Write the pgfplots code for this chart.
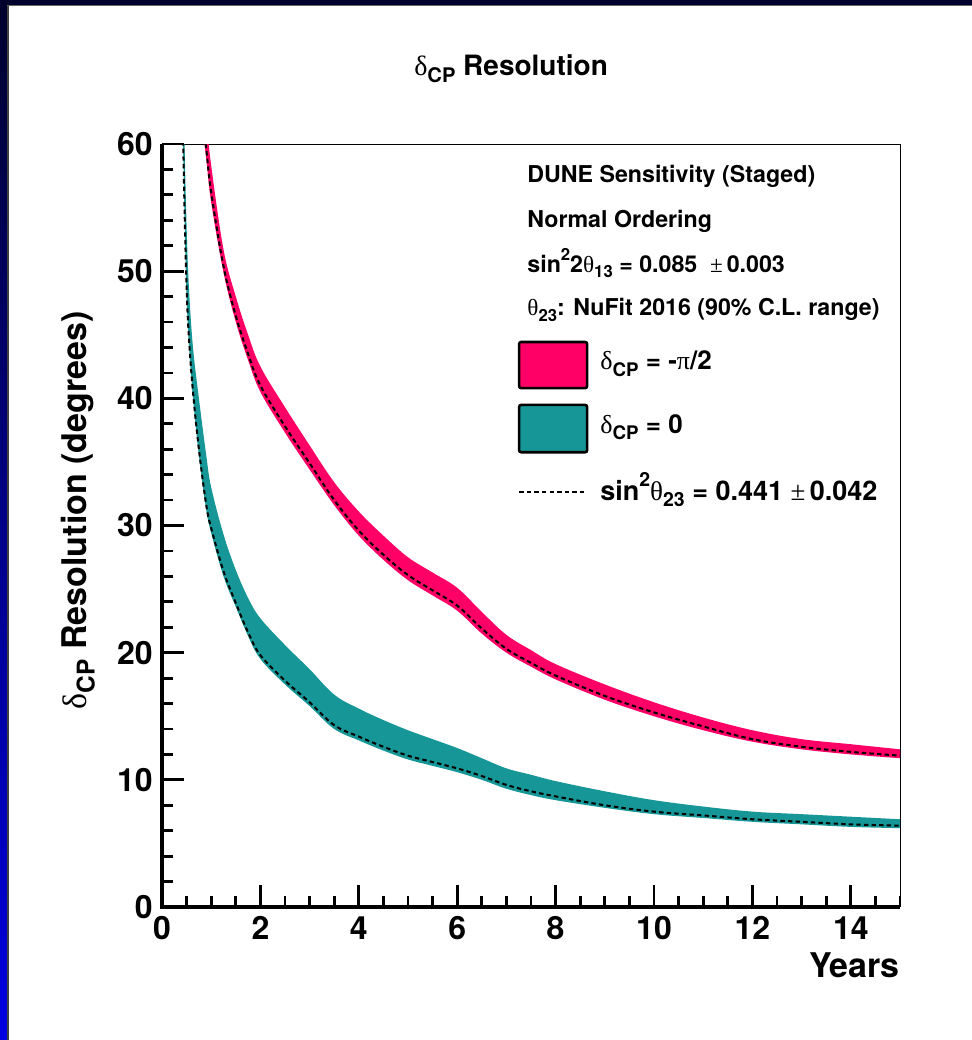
\documentclass[border=0pt]{standalone}
\usepackage{fontspec}
\setmainfont{TeX Gyre Heros}
\newfontfamily\grk{Liberation Serif}
\usepackage{graphicx}
\usepackage{pgfplots}
\pgfplotsset{compat=1.18}
\usepgfplotslibrary{fillbetween}
\usepackage{pgfplotstable}

\definecolor{dunepink}{RGB}{255,0,102}
\definecolor{duneteal}{RGB}{22,150,150}
\definecolor{framenavy}{RGB}{0,0,45}
\definecolor{frameblue}{RGB}{0,0,225}

% sub- and superscripts in the ROOT style
\newcommand{\lo}[1]{\raisebox{-0.45ex}{\scalebox{0.72}{#1}}}
\newcommand{\hi}[1]{\raisebox{0.95ex}{\scalebox{0.72}{#1}}}
\newcommand{\gr}[1]{{\grk\mdseries #1}}

% delta_CP = -pi/2 : lower edge, upper edge, central sin^2 theta23 curve
\pgfplotstableread{
x     lo    hi    mid
0.80  62.0  66.0  63.0
0.90  58.8  62.0  59.6
1.00  55.4  58.3  56.2
1.25  49.9  51.7  50.4
1.50  46.0  48.0  46.5
1.75  43.0  45.0  43.5
2.00  40.5  42.5  41.0
2.50  37.3  39.3  37.8
3.00  34.4  36.3  34.9
3.50  31.6  33.4  32.0
4.00  29.2  31.1  29.6
4.50  27.3  29.2  27.7
5.00  25.7  27.5  26.1
5.50  24.5  26.3  24.9
6.00  23.3  25.1  23.7
6.50  21.5  23.2  21.9
7.00  20.0  21.4  20.3
7.50  18.9  20.2  19.2
8.00  17.9  19.1  18.2
9.00  16.3  17.5  16.6
10.00 15.0  16.1  15.3
11.00 13.9  14.9  14.2
12.00 13.0  13.9  13.2
13.00 12.4  13.2  12.6
14.00 12.0  12.8  12.2
15.00 11.7  12.4  11.9
}\pinkdata

% delta_CP = 0
\pgfplotstableread{
x     lo    hi    mid
0.40  66.0  72.0  66.8
0.45  55.5  61.5  56.3
0.50  48.0  53.5  48.7
0.55  44.0  48.5  44.6
0.63  40.0  44.0  40.5
0.75  35.5  40.0  36.0
0.90  31.2  35.5  31.6
1.00  29.4  33.0  29.8
1.25  26.0  29.3  26.4
1.50  23.6  26.5  23.9
1.75  21.3  24.3  21.6
2.00  19.5  22.7  19.8
2.50  17.5  20.6  17.8
3.00  15.8  18.7  16.1
3.50  14.0  16.7  14.3
4.00  13.1  15.6  13.4
4.50  12.3  14.7  12.6
5.00  11.6  13.9  11.9
5.50  11.1  13.2  11.4
6.00  10.6  12.5  10.9
6.50  10.0  11.7  10.3
7.00  9.3   10.9  9.6
7.50  8.8   10.4  9.1
8.00  8.4   9.9   8.7
9.00  7.8   9.1   8.0
10.00 7.3   8.4   7.5
11.00 7.0   7.9   7.2
12.00 6.7   7.5   6.9
13.00 6.5   7.3   6.7
14.00 6.3   7.1   6.5
15.00 6.2   6.9   6.4
}\tealdata

\begin{document}
\begin{tikzpicture}
% slide frame
\path (0,0) rectangle (486pt,520pt);
\shade[top color=framenavy, bottom color=frameblue] (0,0) rectangle (3.7pt,520pt);
\fill[black!75] (3.7pt,0) rectangle (4.5pt,517.6pt);
\fill[framenavy] (0,517.6pt) rectangle (486pt,520pt);
\fill[black!60] (3.7pt,517pt) rectangle (486pt,517.6pt);

\begin{axis}[
  at={(81pt,66.5pt)}, anchor=south west,
  scale only axis, width=369pt, height=381.5pt,
  xmin=0, xmax=15, ymin=0, ymax=60,
  xtick={0,2,...,14}, ytick={0,10,...,60},
  minor xtick={0.5,1,...,15}, minor ytick={2,4,...,58},
  tick align=inside, tick pos=left,
  major tick length=11pt, minor tick length=5.5pt,
  major tick style={black, line width=1.4pt},
  minor tick style={black, line width=1.4pt},
  axis line style={black, line width=0.5pt},
  /pgf/number format/assume math mode=true,
  ticklabel style={font=\fontsize{16}{16}\selectfont\bfseries},
  xticklabel style={inner sep=1pt, yshift=-3.5pt},
  yticklabel style={inner sep=1pt, xshift=-3.5pt},
  title={\fontsize{14}{14}\selectfont\bfseries\gr{δ}\lo{CP} Resolution},
  title style={at={(axis description cs:0.473,1.074)}, anchor=base, inner sep=0pt},
  xlabel={\fontsize{17}{17}\selectfont\bfseries Years},
  xlabel style={at={(axis description cs:1,-0.093)}, anchor=base east, inner sep=0pt},
  ylabel={\fontsize{17}{17}\selectfont\bfseries\gr{δ}\lo{CP} Resolution (degrees)},
  ylabel style={at={(axis description cs:-0.114,0.52)}, anchor=center, inner sep=0pt},
  every axis plot/.append style={smooth, tension=0.6},
]
% pink band
\addplot[name path=plo, draw=none] table[x=x,y=lo] {\pinkdata};
\addplot[name path=phi, draw=none] table[x=x,y=hi] {\pinkdata};
\addplot[fill=dunepink, draw=none] fill between[of=plo and phi];
% teal band
\addplot[name path=tlo, draw=none] table[x=x,y=lo] {\tealdata};
\addplot[name path=thi, draw=none] table[x=x,y=hi] {\tealdata};
\addplot[fill=duneteal, draw=none] fill between[of=tlo and thi];
% central curves
\addplot[black, line width=1pt, dash pattern=on 2.2pt off 1.6pt] table[x=x,y=mid] {\pinkdata};
\addplot[black, line width=1pt, dash pattern=on 2.2pt off 1.6pt] table[x=x,y=mid] {\tealdata};
\end{axis}

% heavy left and bottom axis lines, and the legend, in the same frame as the axis box
\begin{axis}[
  at={(81pt,66.5pt)}, anchor=south west,
  scale only axis, width=369pt, height=381.5pt,
  xmin=0, xmax=1, ymin=0, ymax=1, hide axis, clip=false,
]
\draw[black, line width=1.6pt] (axis cs:0,1) -- (axis cs:0,0) -- (axis cs:1,0);

\node[anchor=base west, inner sep=0pt, font=\fontsize{11.6}{12}\selectfont\bfseries]
  at (axis cs:0.4946,0.950) {DUNE Sensitivity (Staged)};
\node[anchor=base west, inner sep=0pt, font=\fontsize{11.6}{12}\selectfont\bfseries]
  at (axis cs:0.4946,0.891) {Normal Ordering};
\node[anchor=base west, inner sep=0pt, font=\fontsize{11.6}{12}\selectfont\bfseries]
  at (axis cs:0.4946,0.832) {sin\hi{2}2\gr{θ}\lo{13} = 0.085 \ \gr{±}\,0.003};
\node[anchor=base west, inner sep=0pt, font=\fontsize{11.6}{12}\selectfont\bfseries]
  at (axis cs:0.4946,0.775) {\gr{θ}\lo{23}: NuFit 2016 (90\% C.L. range)};

\draw[fill=dunepink, line width=1.3pt, rounded corners=1pt]
  (axis cs:0.484,0.680) rectangle (axis cs:0.576,0.7405);
\draw[fill=duneteal, line width=1.3pt, rounded corners=1pt]
  (axis cs:0.484,0.596) rectangle (axis cs:0.576,0.658);
\draw[black, line width=1pt, dash pattern=on 2.2pt off 1.6pt]
  (axis cs:0.484,0.544) -- (axis cs:0.576,0.544);

\node[anchor=base west, inner sep=0pt, font=\fontsize{13}{13}\selectfont\bfseries]
  at (axis cs:0.5935,0.704) {\gr{δ}\lo{CP} = -\gr{π}/2};
\node[anchor=base west, inner sep=0pt, font=\fontsize{13}{13}\selectfont\bfseries]
  at (axis cs:0.5935,0.621) {\gr{δ}\lo{CP} = 0};
\node[anchor=base west, inner sep=0pt, font=\fontsize{13.5}{14}\selectfont\bfseries]
  at (axis cs:0.5935,0.533) {sin\hi{2}\gr{θ}\lo{23} = 0.441 \gr{±}\,0.042};
\end{axis}
\end{tikzpicture}
\end{document}
